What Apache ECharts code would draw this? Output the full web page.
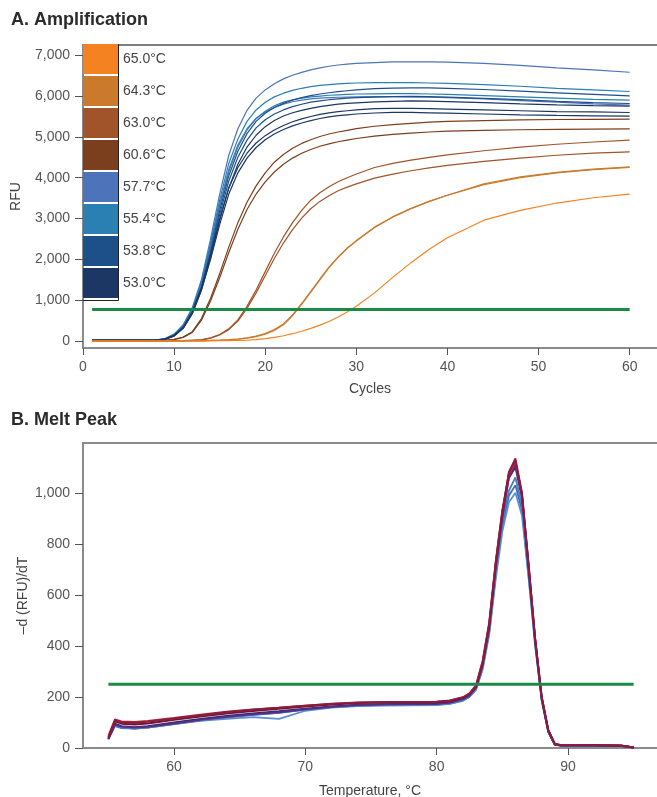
<!DOCTYPE html>
<html>
<head>
<meta charset="utf-8">
<script src="https://cdn.jsdelivr.net/npm/echarts@6/dist/echarts.min.js"></script>
<style>
html,body{margin:0;padding:0;background:#fff;}
#chart{width:657px;height:797px;}
</style>
</head>
<body>
<div id="chart"></div>
<script>
// ---------------- DATA ----------------
// Panel A: amplification (RFU vs cycle)
const cycles = [1,4,7,8,9,10,11,12,13,14,15,16,17,18,19,20,21,22,23,24,25,26,27,28,29,30,32,34,36,38,40,44,48,52,56,60];
const tempLabels = ['65.0°C','64.3°C','63.0°C','60.6°C','57.7°C','55.4°C','53.8°C','53.0°C'];
const ampXTicks = [0,10,20,30,40,50,60];
const ampYTicks = [0,1000,2000,3000,4000,5000,6000,7000];
const ampThreshold = 770;

const rfu_577a = [20,20,20,25,60,170,400,820,1500,2500,3600,4550,5200,5650,5950,6150,6300,6420,6510,6580,6640,6690,6730,6760,6780,6800,6820,6835,6840,6835,6830,6800,6750,6690,6640,6583];
const rfu_577b = [15,15,15,20,50,150,360,760,1400,2350,3350,4200,4800,5200,5450,5610,5720,5800,5860,5900,5930,5950,5960,5970,5975,5980,5985,5985,5980,5970,5960,5930,5890,5850,5810,5780];
const rfu_554a = [20,20,20,25,55,160,380,790,1450,2400,3450,4350,4950,5380,5660,5850,5980,6070,6140,6190,6230,6260,6280,6300,6310,6320,6330,6330,6330,6320,6310,6280,6240,6190,6150,6111];
const rfu_554b = [20,20,20,25,50,150,360,760,1400,2300,3300,4150,4750,5170,5450,5630,5760,5850,5910,5950,5980,6000,6020,6030,6040,6050,6055,6060,6060,6050,6040,6010,5980,5950,5920,5900];
const rfu_538a = [25,25,25,30,50,140,340,720,1330,2200,3200,4050,4650,5080,5380,5580,5720,5820,5900,5960,6010,6050,6080,6110,6130,6150,6180,6195,6200,6200,6190,6160,6120,6080,6040,6004];
const rfu_538b = [25,25,25,30,50,140,330,700,1300,2150,3100,3920,4500,4920,5220,5420,5560,5660,5740,5800,5850,5880,5910,5930,5950,5960,5975,5985,5990,5985,5975,5945,5910,5870,5840,5817];
const rfu_530a = [20,20,20,25,45,130,320,680,1250,2050,2950,3750,4330,4750,5040,5250,5400,5510,5590,5650,5700,5740,5770,5800,5820,5835,5855,5870,5880,5875,5865,5840,5810,5785,5765,5751];
const rfu_530b = [20,20,20,25,40,130,330,700,1300,2100,3000,3750,4250,4600,4850,5030,5170,5280,5370,5440,5500,5550,5590,5620,5640,5660,5690,5700,5700,5690,5680,5660,5640,5620,5610,5597];
const rfu_530c = [20,20,20,25,40,120,310,670,1250,2000,2850,3600,4120,4480,4740,4930,5070,5180,5270,5340,5400,5450,5490,5520,5540,5560,5585,5600,5600,5590,5580,5560,5540,5525,5515,5507];
const rfu_606a = [0,0,0,5,15,40,100,230,550,1050,1650,2300,2900,3400,3800,4120,4380,4570,4720,4840,4930,5010,5070,5120,5160,5200,5260,5300,5330,5360,5380,5400,5415,5425,5430,5433];
const rfu_606b = [0,0,0,5,15,35,90,210,510,980,1550,2170,2740,3220,3600,3900,4140,4330,4480,4600,4690,4770,4830,4880,4920,4960,5020,5060,5090,5120,5140,5160,5175,5185,5192,5196];
const rfu_630a = [0,0,0,0,0,5,10,20,30,80,160,300,520,850,1250,1700,2150,2550,2900,3200,3450,3630,3780,3900,4000,4090,4250,4350,4430,4500,4560,4660,4750,4820,4875,4919];
const rfu_630b = [0,0,0,0,0,5,10,20,30,70,150,280,490,800,1180,1600,2020,2400,2730,3010,3240,3420,3560,3680,3770,3850,3990,4090,4170,4240,4300,4400,4480,4550,4600,4633];
const rfu_643a = [0,0,0,0,0,0,5,8,10,15,20,30,45,70,110,170,260,400,620,900,1200,1500,1800,2050,2270,2450,2780,3040,3240,3420,3570,3850,4020,4130,4210,4266];
const rfu_643b = [0,0,0,0,0,0,5,8,10,15,22,33,50,78,120,185,280,420,640,920,1220,1520,1810,2060,2280,2460,2790,3040,3250,3420,3570,3830,4000,4120,4200,4250];
const rfu_650a = [0,0,0,0,0,0,0,0,0,5,8,10,15,20,35,60,90,130,180,240,310,390,480,590,710,850,1180,1560,1920,2250,2530,2960,3200,3380,3510,3600];

// Panel B: melt peak (-dRFU/dT vs temperature)
const temps = [55,55.5,56,57,58,60,62,64,66,68,70,72,74,76,78,80,81,82,82.5,83,83.5,84,84.5,85,85.5,86,86.5,87,87.5,88,88.5,89,89.5,90,92,94,95];
const meltXTicks = [60,70,80,90];
const meltYTicks = [0,200,400,600,800,1000];
const meltThreshold = 250;

const melt_1 = [40,108,100,98,102,115,128,140,150,158,166,173,178,180,181,182,186,198,212,242,332,482,722,922,1082,1135,1000,722,432,202,72,16,11,11,11,10,2];
const melt_2 = [48,112,104,102,106,118,131,142,151,158,166,174,179,181,181,182,187,199,214,247,342,492,732,932,1072,1120,990,717,427,200,70,15,11,11,11,10,2];
const melt_3 = [35,92,84,80,83,96,110,122,132,140,151,161,168,171,172,173,178,191,206,236,323,468,708,903,1058,1110,985,708,423,194,66,13,9,9,9,8,2];
const melt_4 = [36,96,86,82,86,100,114,126,136,144,154,163,170,172,173,174,179,192,207,238,328,473,713,908,1058,1100,980,703,418,193,64,13,9,9,9,8,2];
const melt_5 = [42,104,95,92,96,110,123,135,145,153,162,170,176,178,178,179,183,196,211,244,337,487,727,927,1077,1125,995,720,430,201,71,16,11,11,11,10,2];
const melt_6 = [38,90,80,77,81,95,108,120,130,138,150,160,166,168,169,170,174,186,201,230,313,453,678,868,988,1030,930,678,408,188,63,13,9,9,9,8,2];
const melt_7 = [36,88,80,76,80,94,106,114,121,114,146,158,164,166,167,168,173,185,200,228,308,443,663,848,963,1000,910,668,403,186,62,12,9,9,9,8,2];
const melt_8 = [34,86,78,76,80,94,108,120,130,139,150,160,166,169,170,171,175,188,203,233,318,460,688,883,1008,1060,950,688,413,190,64,13,9,9,9,8,2];

// ---------------- STYLE ----------------
const FONT = '"Liberation Sans", Arial, Helvetica, sans-serif';
const tempColors = {
  '65.0°C':'#F58220','64.3°C':'#CB7A2C','63.0°C':'#A1532A','60.6°C':'#7B3F1D',
  '57.7°C':'#4D74BA','55.4°C':'#2A7FB3','53.8°C':'#1D4F89','53.0°C':'#1C3763'
};
const ampSeriesDefs = [
  ['57.7°C', rfu_577a],['57.7°C', rfu_577b],
  ['55.4°C', rfu_554a],['55.4°C', rfu_554b],
  ['53.8°C', rfu_538a],['53.8°C', rfu_538b],
  ['53.0°C', rfu_530a],['53.0°C', rfu_530b],['53.0°C', rfu_530c],
  ['60.6°C', rfu_606a],['60.6°C', rfu_606b],
  ['63.0°C', rfu_630a],['63.0°C', rfu_630b],
  ['64.3°C', rfu_643a],['64.3°C', rfu_643b],
  ['65.0°C', rfu_650a]
];
const meltSeriesDefs = [
  [melt_6,'#3D6DB8'],[melt_7,'#5B8ED4'],[melt_8,'#4A7CC4'],
  [melt_4,'#2E2B70'],[melt_3,'#5B2D83'],
  [melt_5,'#6E1633'],[melt_2,'#A3253F'],[melt_1,'#8B1A3C']
];
const fmt = v => String(v).replace(/\B(?=(\d{3})+(?!\d))/g, ',');
const green = '#1B8A47';
const labelStyle = {fontFamily: FONT, fontSize: 14, color: '#555'};

const series = [];
ampSeriesDefs.forEach(([name, vals]) => {
  series.push({
    type:'line', name, xAxisIndex:0, yAxisIndex:0,
    data: cycles.map((c,i)=>[c, vals[i]]),
    showSymbol:false, symbol:'none', color: tempColors[name],
    lineStyle:{width:1.2, color: tempColors[name]}, silent:true
  });
});
series.push({
  type:'line', name:'thrA', xAxisIndex:0, yAxisIndex:0,
  data:[[cycles[0], ampThreshold],[cycles[cycles.length-1], ampThreshold]],
  symbol:'none', lineStyle:{width:3, color:green}, color:green, z:5, silent:true
});
meltSeriesDefs.forEach(([vals, col], k) => {
  series.push({
    type:'line', name:'melt'+k, xAxisIndex:2, yAxisIndex:1,
    data: temps.map((t,i)=>[t, vals[i]]),
    symbol:'none', color: col, lineStyle:{width:1.8, color: col}, silent:true
  });
});
series.push({
  type:'line', name:'thrB', xAxisIndex:2, yAxisIndex:1,
  data:[[55, meltThreshold],[95, meltThreshold]],
  symbol:'none', lineStyle:{width:3, color:green}, color:green, z:5, silent:true
});

const chart = echarts.init(document.getElementById('chart'), null, {renderer:'canvas'});
chart.setOption({
  animation:false,
  backgroundColor:'#fff',
  textStyle:{fontFamily:FONT},
  grid:[
    {left:83, top:45, width:574, height:303, outerBoundsMode:'none', containLabel:false},
    {left:83, top:443, width:574, height:305, outerBoundsMode:'none', containLabel:false}
  ],
  xAxis:[
    {type:'value', gridIndex:0, min:0, max:63, position:'bottom',
     name:'Cycles', nameLocation:'middle', nameGap:34, nameMoveOverlap:false,
     nameTextStyle:{fontFamily:FONT, fontSize:14, color:'#444'},
     axisLine:{show:true, onZero:false, lineStyle:{color:'#8a8a8a', width:2}},
     axisTick:{show:true, length:7, customValues:ampXTicks, lineStyle:{color:'#555', width:1}},
     axisLabel:Object.assign({customValues:ampXTicks, margin:12}, labelStyle),
     splitLine:{show:false}},
    {type:'value', gridIndex:0, min:0, max:63, position:'top',
     axisLine:{show:true, onZero:false, lineStyle:{color:'#555', width:1.5}},
     axisTick:{show:false}, axisLabel:{show:false}, splitLine:{show:false}},
    {type:'value', gridIndex:1, min:53.07, max:96.78, position:'bottom',
     name:'Temperature, °C', nameLocation:'middle', nameGap:36, nameMoveOverlap:false,
     nameTextStyle:{fontFamily:FONT, fontSize:14, color:'#444'},
     axisLine:{show:true, onZero:false, lineStyle:{color:'#8a8a8a', width:2}},
     axisTick:{show:true, length:7, customValues:meltXTicks, lineStyle:{color:'#555', width:1}},
     axisLabel:Object.assign({customValues:meltXTicks, margin:12}, labelStyle),
     splitLine:{show:false}},
    {type:'value', gridIndex:1, min:53.07, max:96.78, position:'top',
     axisLine:{show:true, onZero:false, lineStyle:{color:'#8a8a8a', width:2}},
     axisTick:{show:false}, axisLabel:{show:false}, splitLine:{show:false}}
  ],
  yAxis:[
    {type:'value', gridIndex:0, min:-170, max:7250,
     name:'RFU', nameLocation:'middle', nameGap:60, nameMoveOverlap:false,
     nameTextStyle:{fontFamily:FONT, fontSize:14, color:'#444'},
     axisLine:{show:true, onZero:false, lineStyle:{color:'#8a8a8a', width:2}},
     axisTick:{show:true, length:8, customValues:ampYTicks, lineStyle:{color:'#555', width:1}},
     axisLabel:Object.assign({customValues:ampYTicks, margin:13, formatter:fmt}, labelStyle),
     splitLine:{show:false}},
    {type:'value', gridIndex:1, min:0, max:1195,
     name:'–d (RFU)/dT', nameLocation:'middle', nameGap:53, nameMoveOverlap:false,
     nameTextStyle:{fontFamily:FONT, fontSize:14, color:'#444'},
     axisLine:{show:true, onZero:false, lineStyle:{color:'#8a8a8a', width:2}},
     axisTick:{show:true, length:8, customValues:meltYTicks, lineStyle:{color:'#555', width:1}},
     axisLabel:Object.assign({customValues:meltYTicks, margin:13, formatter:fmt}, labelStyle),
     splitLine:{show:false}}
  ],
  legend:{
    orient:'vertical', left:83, top:44, padding:0,
    itemWidth:35, itemHeight:30, itemGap:2, icon:'rect',
    selectedMode:false, data:tempLabels,
    textStyle:{fontFamily:FONT, fontSize:14, color:'#444'}
  },
  graphic:[
    {type:'text', left:11, top:11, style:{text:'A. Amplification', font:'bold 18px '+FONT, fill:'#2b2b2b'}},
    {type:'text', left:11, top:411, style:{text:'B. Melt Peak', font:'bold 18px '+FONT, fill:'#2b2b2b'}},
    {type:'polyline', shape:{points:[[118.5,44],[118.5,300.5],[83,300.5]]}, style:{stroke:'#222', lineWidth:1, fill:null}, z:10}
  ],
  series
});
</script>
</body>
</html>
